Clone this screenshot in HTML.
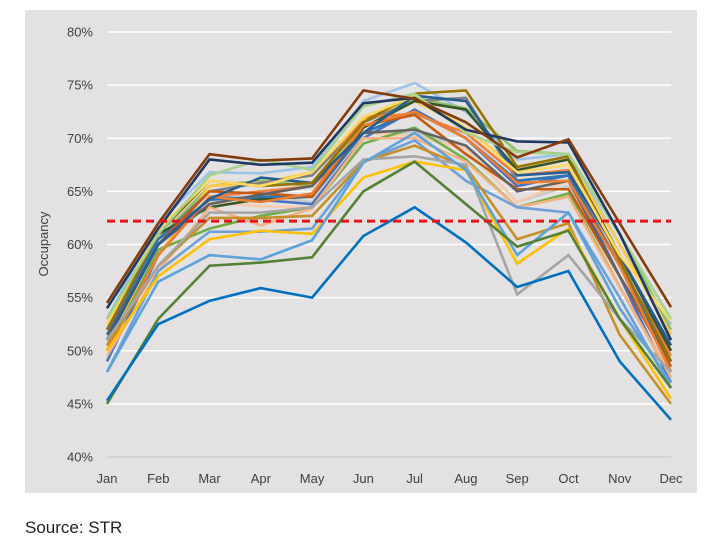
<!DOCTYPE html>
<html><head><meta charset="utf-8"><style>
body{margin:0;background:#fff;font-family:"Liberation Sans",sans-serif;}
#wrap{position:relative;width:720px;height:546px;}
#src{position:absolute;left:25px;top:518px;font-size:17px;color:#222;}
</style></head><body>
<div id="wrap">
<svg id="chart" width="720" height="546"></svg>
<div id="src">Source: STR</div>
</div>
<script>
const months=["Jan","Feb","Mar","Apr","May","Jun","Jul","Aug","Sep","Oct","Nov","Dec"];
const yTicks=[40,45,50,55,60,65,70,75,80];
const avgLine=62.2;
const colors=["#9dc3e6","#c9c9c9","#f8cbad","#8cc168","#ffc845","#7f7f7f","#4472c4","#f08040","#375623","#2e75b6","#c55a11","#70ad47","#636363","#f4b183","#ed7d31","#255e91","#997300","#ffd966","#6f9fd8","#a9d18e","#c5902a","#ffc000","#a5a5a5","#5ba3d9","#548235","#0070c0","#1f3864","#843c0c"];
const s1=[53,62,66.8,66.7,67.3,73.5,75.2,72.5,68,68.5,60,52.5];
const s2=[51,59,64.5,64.5,64,70.5,70.5,69,64,65.5,57,50];
const s3=[52,60.5,64,63.6,63.5,70.5,70.2,69,64,66,56,48];
const s4=[52,60.5,65.5,66,65.5,71.5,73.8,72.8,68.8,68.5,61,52];
const s5=[51,59,65.5,65.8,66.8,71.8,73.5,71,67,68,60,51.5];
const s6=[52,60.5,65,65.8,66.5,71.5,73.5,73.8,66,66.5,58,50];
const s7=[49,59,64.5,64.2,63.8,70,72.7,70,65.5,66.5,57,47];
const s8=[50.5,59,64.5,65,65.5,72,72.3,70.5,66.5,67,58,49.5];
const s9=[53,61,63.5,64.3,64.5,71,73.5,72.7,67,68,59,50];
const s10=[52,60.5,64.2,64.5,64.5,70.5,72.5,70,66,66.5,58,49];
const s11=[51,60,65,64.8,64.5,71.2,72.2,68.5,65.2,65.2,57,48.5];
const s12=[50,59.5,61.5,62.7,63.5,69.5,71,68,63.5,64.8,56,47.5];
const s13=[51.5,60,63.8,64.7,65.5,70.5,70.8,69.3,65,66,57,49];
const s14=[49.5,57.5,63.5,61.8,63.4,70,70,67.8,63.5,64.5,56,47.5];
const s15=[50,59,64.5,64,64.8,71.2,72.5,70,65.8,66,58,48];
const s16=[51,60,64.3,66.3,65.8,70.5,74,73.5,66.5,66.8,59,50.5];
const s17=[52,61,66,65.5,65.8,71.5,74.2,74.5,67.3,68.3,58.5,49];
const s18=[52.5,61.5,66,65.5,66.8,72,74,71,66.8,67.5,59,52.8];
const s19=[48,57.5,61.2,61.2,61.5,67.8,69.8,66,63.5,63,55,46.5];
const s20=[53,61,66.5,68,67,73,74.2,70.5,68.7,68.5,61,53];
const s21=[50.5,58,62.5,62.5,62.7,67.8,69.3,67.3,60.5,62,51.5,45];
const s22=[50,57,60.5,61.3,61,66.3,67.8,67,58.2,61.5,53,45.5];
const s23=[51,58,63,63,63.5,68,68.3,67.5,55.3,59,53,48];
const s24=[48,56.5,59,58.6,60.4,67.7,70.5,67,59,63,54,47];
const s25=[45,53,58,58.3,58.8,65,67.8,63.8,59.8,61.3,53,46.5];
const s26=[45.3,52.5,54.7,55.9,55,60.8,63.5,60.2,56,57.5,49,43.5];
const s27=[54,61.5,68,67.5,67.7,73.3,73.8,70.8,69.7,69.6,61,51];
const s28=[54.5,62,68.5,67.9,68.1,74.5,73.7,71.5,68.2,69.9,62,54.1];
const series=[s1,s2,s3,s4,s5,s6,s7,s8,s9,s10,s11,s12,s13,s14,s15,s16,s17,s18,s19,s20,s21,s22,s23,s24,s25,s26,s27,s28];

const NS="http://www.w3.org/2000/svg";
const svg=document.getElementById('chart');
const X0=107,X1=671,Y0=457,Y1=32;
const x=i=>X0+(X1-X0)*i/(months.length-1);
const y=v=>Y0-(v-40)*(Y0-Y1)/40;
function el(t,a){const e=document.createElementNS(NS,t);for(const k in a)e.setAttribute(k,a[k]);svg.appendChild(e);return e;}
const bg=el('rect',{x:25,y:10,width:672,height:483,fill:'#e3e1e2'});


yTicks.forEach(v=>{
  const g=el('line',{x1:X0,x2:X1,y1:y(v),y2:y(v),stroke:v===40?'#d0d0d0':'#ffffff','stroke-width':1.5});
  
  
  const t=el('text',{x:93,y:y(v)+4.5,'text-anchor':'end','font-size':13,fill:'#404040'});
  t.textContent=v+'%';
  
  
});
months.forEach((m,i)=>{
  const t=el('text',{x:x(i),y:483,'text-anchor':'middle','font-size':13,fill:'#404040'});
  t.textContent=m;
  
  
});
const yt=el('text',{x:0,y:0,'text-anchor':'middle','font-size':13,fill:'#404040',transform:'translate(48,244) rotate(-90)'});
yt.textContent='Occupancy';


series.forEach((s,k)=>{
  const p=el('polyline',{points:s.map((v,i)=>x(i)+','+y(v)).join(' '),fill:'none',stroke:colors[k],'stroke-width':2.6,'stroke-linejoin':'miter'});
  
  
});
const a=el('line',{x1:X0,x2:X1,y1:y(avgLine),y2:y(avgLine),stroke:'#e8141c','stroke-width':3,'stroke-dasharray':'8,5'});


</script>
</body></html>
